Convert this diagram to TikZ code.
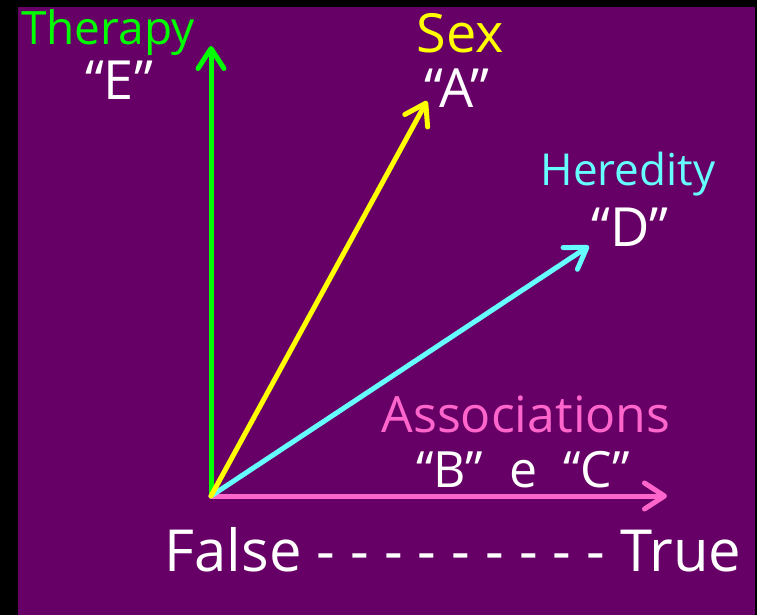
\documentclass[tikz,border=0pt]{standalone}
\usepackage{fontspec}
\setmainfont{Open Sans}
\usetikzlibrary{arrows.meta}
\definecolor{bgpurple}{HTML}{660066}
\definecolor{therapygreen}{HTML}{00FF00}
\definecolor{sexyellow}{HTML}{FFFF00}
\definecolor{heredcyan}{HTML}{66FFFF}
\definecolor{assocpink}{HTML}{FF66CC}
\tikzset{
  vec/.style={line width=5pt, line cap=round,
    -{Straight Barb[length=20pt, width=26pt, line width=5pt, round]}},
  lbl/.style={inner sep=0pt, font=\fontsize{46}{50}\selectfont},
  letter/.style={inner sep=0pt, text=white, font=\fontsize{54}{58}\selectfont}
}
\begin{document}
\begin{tikzpicture}[x=1pt, y=-1pt]
  \useasboundingbox (0,0) rectangle (757,615);
  \fill[black] (0,0) rectangle (757,615);
  \fill[bgpurple] (18,7) rectangle (755,615);
  \coordinate (O) at (211,496);
  \coordinate (E) at (211,46); \coordinate (A) at (427,101);
  \coordinate (D) at (589,246); \coordinate (BC) at (667,496);
  \draw[vec, therapygreen] (O)--(E);
  \draw[vec, assocpink] (O)--(BC);
  \draw[vec, heredcyan] (O)--(D);
  \draw[vec, sexyellow] (O)--(A);
  \node[lbl, text=therapygreen] (therapy) at (108,33) {Therapy};
  \node[letter] (eLbl) at (119,80) {“E”};
  \node[lbl, text=sexyellow, font=\fontsize{54}{58}\selectfont] (sex) at (460,33) {Sex};
  \node[letter] (aLbl) at (457,88) {“A”};
  \node[lbl, text=heredcyan, font=\fontsize{44}{48}\selectfont] (heredity) at (628,174) {Heredity};
  \node[letter] (dLbl) at (630,227) {“D”};
  \node[lbl, text=assocpink, font=\fontsize{50}{54}\selectfont] (assoc) at (526,414) {Associations};
  \node[letter, font=\fontsize{50}{54}\selectfont] (bcLbl) at (523,470) {“B”\ \ e\ \ “C”};
  \node[letter, font=\fontsize{58}{62}\selectfont] (scale) at (453,550) {False - - - - - - - - - True};
\end{tikzpicture}
\end{document}
